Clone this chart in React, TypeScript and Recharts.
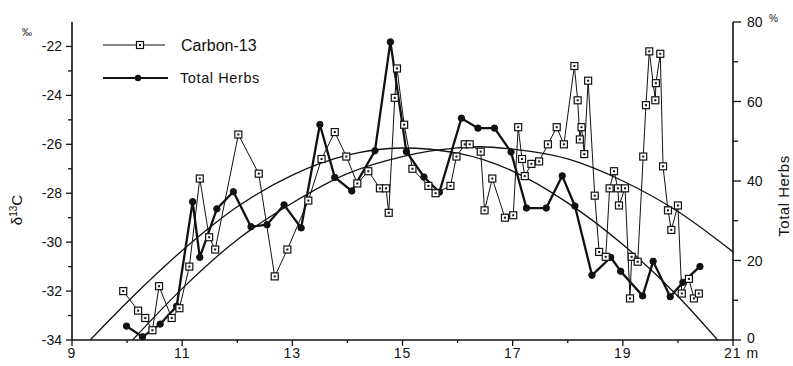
import React from "react";
import { ComposedChart, Line, XAxis, YAxis } from "recharts";

// Carbon-13 (left axis, per mil)
const carbonX = [9.93, 10.2, 10.33, 10.46, 10.58, 10.81, 10.95, 11.13, 11.32, 11.49, 11.6, 12.02, 12.39, 12.68, 12.91, 13.29, 13.53, 13.77, 13.98, 14.18, 14.38, 14.59, 14.7, 14.75, 14.86, 14.9, 15.03, 15.18, 15.47, 15.6, 15.87, 15.98, 16.13, 16.22, 16.42, 16.49, 16.63, 16.86, 17.01, 17.1, 17.17, 17.22, 17.34, 17.48, 17.64, 17.8, 17.93, 18.12, 18.18, 18.22, 18.25, 18.3, 18.37, 18.49, 18.57, 18.69, 18.76, 18.84, 18.91, 18.93, 19.04, 19.13, 19.16, 19.27, 19.37, 19.42, 19.48, 19.59, 19.6, 19.68, 19.73, 19.82, 19.88, 20.0, 20.07, 20.2, 20.29, 20.38];
const carbonY = [-32.0, -32.8, -33.1, -33.6, -31.8, -33.1, -32.7, -31.0, -27.4, -29.8, -30.3, -25.6, -27.2, -31.4, -30.3, -28.3, -26.6, -25.5, -26.5, -27.6, -27.1, -27.8, -27.8, -28.8, -24.1, -22.9, -25.2, -27.0, -27.7, -28.0, -27.7, -26.5, -26.0, -26.0, -26.3, -28.7, -27.4, -29.0, -28.9, -25.3, -26.6, -27.3, -26.8, -26.7, -26.0, -25.3, -26.0, -22.8, -24.2, -25.8, -25.3, -26.4, -23.4, -28.1, -30.4, -30.6, -27.8, -27.1, -27.8, -28.5, -27.8, -32.3, -30.6, -30.8, -26.5, -24.4, -22.2, -24.2, -23.5, -22.3, -26.9, -28.7, -29.5, -28.5, -32.1, -31.5, -32.3, -32.1];

// Total Herbs (right axis, %)
const herbsX = [9.99, 10.28, 10.6, 10.9, 11.19, 11.32, 11.63, 11.93, 12.25, 12.54, 12.85, 13.16, 13.5, 13.77, 14.08, 14.5, 14.78, 15.07, 15.39, 15.67, 16.07, 16.37, 16.67, 16.97, 17.25, 17.61, 17.9, 18.13, 18.44, 18.78, 18.96, 19.36, 19.55, 19.86, 20.09, 20.4];
const herbsY = [3.5, 0.8, 4, 8.5, 34.8, 20.8, 33, 37.3, 28.5, 29, 34, 28.2, 54.2, 40.9, 37.5, 47.6, 75, 47.4, 41, 37.2, 55.8, 53.3, 53.3, 47.3, 33.2, 33.2, 41.3, 33.7, 16.3, 20.8, 17.3, 11.1, 19.8, 10.9, 14.5, 18.5];

// fitted curves
const herbsFitX = [9.33, 10, 11, 12, 13, 14, 15, 16, 17, 18, 19, 20, 20.72];
const herbsFitY = [0, 9.5, 22.5, 33.5, 41.5, 46.5, 48.3, 47.0, 42.5, 34.5, 24, 11, 0];
const carbonFitX = [10.1, 11, 12, 13, 14, 15, 16, 16.4, 17, 18, 19, 20, 21];
const carbonFitY = [-34, -31.9, -29.9, -28.4, -27.2, -26.5, -26.15, -26.1, -26.2, -26.6, -27.5, -28.75, -30.4];

const xTicks = [9, 10, 11, 12, 13, 14, 15, 16, 17, 18, 19, 20, 21];
const leftTicks = [-34, -33, -32, -31, -30, -29, -28, -27, -26, -25, -24, -23, -22];
const rightTicks = [0, 10, 20, 30, 40, 50, 60, 70, 80];

const carbonData = carbonX.map((x, i) => ({ x, y: carbonY[i] }));
const herbsData = herbsX.map((x, i) => ({ x, y: herbsY[i] }));
const herbsFit = herbsFitX.map((x, i) => ({ x, y: herbsFitY[i] }));
const carbonFit = carbonFitX.map((x, i) => ({ x, y: carbonFitY[i] }));

const FONT = "'Liberation Sans', Arial, sans-serif";
const INK = "#111";

const XTick = (props: any) => {
  const { x, y, payload } = props;
  const v = payload.value;
  const major = v % 2 === 1;
  return (
    <g>
      <line x1={x} x2={x} y1={y} y2={y + (major ? 6 : 3)} stroke={INK} strokeWidth={1.3} />
      {major && (
        <text
          x={v === 21 ? x - 9 : x}
          y={y + 18}
          textAnchor={v === 21 ? "start" : "middle"}
          fontSize={14}
          fontFamily={FONT}
          fill={INK}
          letterSpacing={1}
        >
          {v === 21 ? "21 m" : String(v)}
        </text>
      )}
    </g>
  );
};

const LeftTick = (props: any) => {
  const { x, y, payload } = props;
  const v = payload.value;
  const major = v % 2 === 0;
  return (
    <g>
      <line x1={x - (major ? 6 : 4)} x2={x} y1={y} y2={y} stroke={INK} strokeWidth={1.3} />
      {major && (
        <text x={x - 10} y={y + 5} textAnchor="end" fontSize={14} fontFamily={FONT} fill={INK}>
          {String(v)}
        </text>
      )}
    </g>
  );
};

const RightTick = (props: any) => {
  const { x, y, payload } = props;
  const v = payload.value;
  const major = v % 20 === 0;
  return (
    <g>
      <line x1={x} x2={x + (major ? 8 : 5)} y1={y} y2={y} stroke={INK} strokeWidth={1.3} />
      {major && (
        <text x={x + 14} y={y + (v === 0 ? 3 : 5)} textAnchor="start" fontSize={14} fontFamily={FONT} fill={INK}>
          {String(v)}
        </text>
      )}
    </g>
  );
};

const SquareDot = (props: any) => {
  const { cx, cy } = props;
  if (cx == null || cy == null) return <g />;
  return (
    <g>
      <rect x={cx - 3.5} y={cy - 3.5} width={7} height={7} fill="#fff" stroke={INK} strokeWidth={1.2} />
      <rect x={cx - 1} y={cy - 1} width={2} height={2} fill={INK} />
    </g>
  );
};

const FilledDot = (props: any) => {
  const { cx, cy } = props;
  if (cx == null || cy == null) return <g />;
  return <circle cx={cx} cy={cy} r={3.2} fill={INK} stroke={INK} />;
};

export default function App() {
  return (
    <div style={{ position: "absolute", left: 0, top: 0, width: 793, height: 366, background: "#fff" }}>
      <ComposedChart
        width={793}
        height={366}
        margin={{ top: 22, right: 10, bottom: 0, left: 12 }}
        style={{ fontFamily: FONT }}
      >
        <XAxis
          xAxisId="main"
          type="number"
          dataKey="x"
          domain={[9, 21]}
          ticks={xTicks}
          interval={0}
          allowDataOverflow
          height={26}
          tickSize={0}
          tickMargin={0}
          tickLine={false}
          tick={<XTick />}
          axisLine={{ stroke: INK, strokeWidth: 1.6 }}
        />
        <XAxis
          xAxisId="top"
          orientation="top"
          type="number"
          domain={[9, 21]}
          height={0}
          tick={false}
          tickLine={false}
          axisLine={{ stroke: INK, strokeWidth: 1.6 }}
        />
        <YAxis
          yAxisId="left"
          type="number"
          domain={[-34, -21]}
          ticks={leftTicks}
          interval={0}
          allowDataOverflow
          width={60}
          tickSize={0}
          tickMargin={0}
          tickLine={false}
          tick={<LeftTick />}
          axisLine={{ stroke: INK, strokeWidth: 1.6 }}
        />
        <YAxis
          yAxisId="right"
          orientation="right"
          type="number"
          domain={[0, 80]}
          ticks={rightTicks}
          interval={0}
          allowDataOverflow
          width={50}
          tickSize={0}
          tickMargin={0}
          tickLine={false}
          tick={<RightTick />}
          axisLine={{ stroke: INK, strokeWidth: 1.6 }}
        />
        <Line
          xAxisId="main"
          yAxisId="right"
          data={herbsFit}
          dataKey="y"
          type="monotone"
          stroke={INK}
          strokeWidth={1.3}
          dot={false}
          activeDot={false}
          isAnimationActive={false}
        />
        <Line
          xAxisId="main"
          yAxisId="left"
          data={carbonFit}
          dataKey="y"
          type="monotone"
          stroke={INK}
          strokeWidth={1.3}
          dot={false}
          activeDot={false}
          isAnimationActive={false}
        />
        <Line
          xAxisId="main"
          yAxisId="right"
          data={herbsData}
          dataKey="y"
          type="linear"
          stroke={INK}
          strokeWidth={2.3}
          dot={(p: any) => <FilledDot key={`h${p.index}`} {...p} />}
          activeDot={false}
          isAnimationActive={false}
        />
        <Line
          xAxisId="main"
          yAxisId="left"
          data={carbonData}
          dataKey="y"
          type="linear"
          stroke={INK}
          strokeWidth={1}
          dot={(p: any) => <SquareDot key={`c${p.index}`} {...p} />}
          activeDot={false}
          isAnimationActive={false}
        />
      </ComposedChart>
      <svg
        width={793}
        height={366}
        style={{ position: "absolute", left: 0, top: 0, pointerEvents: "none" }}
      >
        <line x1={103} x2={165} y1={45} y2={45} stroke={INK} strokeWidth={1} />
        <rect x={136.5} y={41.5} width={7} height={7} fill="#fff" stroke={INK} strokeWidth={1.2} />
        <rect x={139} y={44} width={2} height={2} fill={INK} />
        <text x={181} y={51} fontSize={16} fontFamily={FONT} fill={INK}>Carbon-13</text>
        <line x1={103} x2={168} y1={78} y2={78} stroke={INK} strokeWidth={2.2} />
        <circle cx={138} cy={78} r={3.2} fill={INK} />
        <text x={180} y={83} fontSize={14.5} fontFamily={FONT} fill={INK} letterSpacing={0.6}>Total Herbs</text>
        <text x={22} y={36} fontSize={10} fontFamily={FONT} fill={INK}>‰</text>
        <text x={769} y={22} fontSize={10} fontFamily={FONT} fill={INK}>%</text>
        <text
          x={22}
          y={210}
          transform="rotate(-90 22 210)"
          textAnchor="middle"
          fontSize={15}
          fontFamily={FONT}
          fill={INK}
        >
          δ<tspan fontSize={10} dy={-5}>13</tspan><tspan dy={5}>C</tspan>
        </text>
        <text
          x={789}
          y={196}
          transform="rotate(-90 789 196)"
          textAnchor="middle"
          fontSize={15}
          fontFamily={FONT}
          fill={INK}
          letterSpacing={0.5}
        >
          Total Herbs
        </text>
      </svg>
    </div>
  );
}
